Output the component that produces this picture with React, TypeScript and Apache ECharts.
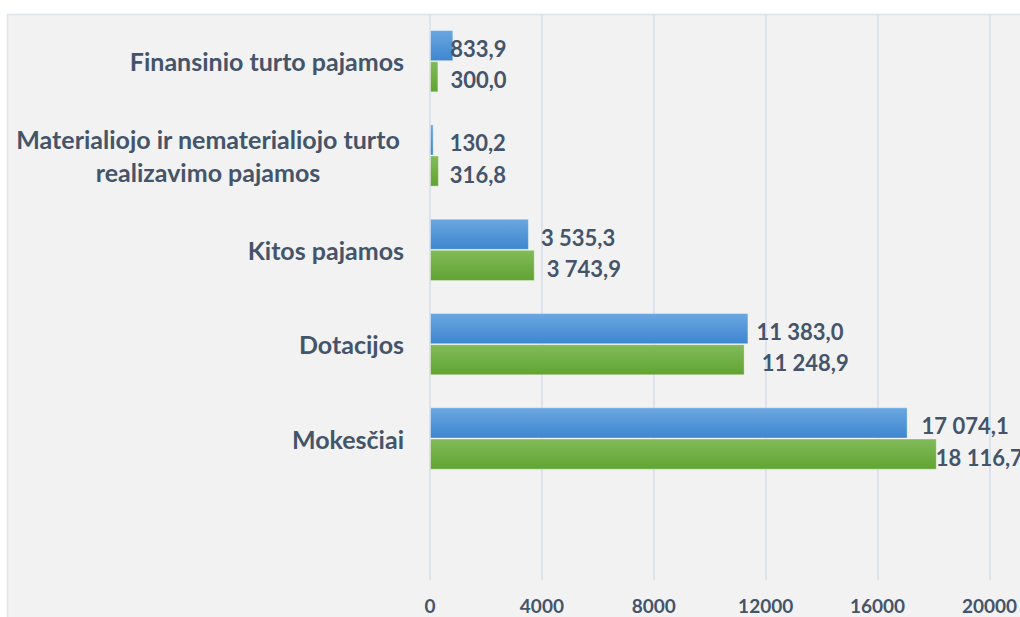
import React, { useEffect, useRef } from "react";
import * as echarts from "echarts";

const categories = [
  "Finansinio turto pajamos",
  "Materialiojo ir nematerialiojo turto\nrealizavimo pajamos",
  "Kitos pajamos",
  "Dotacijos",
  "Mokesčiai",
  "",
];
const seriesBlue = [833.9, 130.2, 3535.3, 11383.0, 17074.1, null];
const seriesGreen = [300.0, 316.8, 3743.9, 11248.9, 18116.7, null];
const xTicks = [0, 4000, 8000, 12000, 16000, 20000];

// label nudges (px) to mimic manually positioned labels
const blueLabelDx = [-3, 16, 12, 8, 14, 0];
const greenLabelDx = [12, 11, 12, 17, -1, 0];

const TEXT = "#44546a";
const FONT = "Lato, 'Open Sans', sans-serif";

const fmt = (v: number) => {
  const [i, d] = v.toFixed(1).split(".");
  const ip = i.replace(/\B(?=(\d{3})+(?!\d))/g, " ");
  return ip + "," + d;
};

const grad = (a: string, b: string) =>
  new echarts.graphic.LinearGradient(0, 0, 0, 1, [
    { offset: 0, color: a },
    { offset: 1, color: b },
  ]);

const mkData = (vals: (number | null)[], dx: number[]) =>
  vals.map((v, i) =>
    v == null
      ? null
      : { value: v, label: { offset: [dx[i], 3] } }
  );

export default function App() {
  const ref = useRef<HTMLDivElement>(null);
  useEffect(() => {
    if (!ref.current) return;
    const chart = echarts.init(ref.current, undefined, { renderer: "svg" });
    const labelCommon = {
      show: true,
      position: "right" as const,
      distance: 0,
      color: TEXT,
      fontFamily: FONT,
      fontWeight: "bold" as const,
      fontSize: 22,
      formatter: (p: any) => fmt(p.value),
    };
    chart.setOption({
      animation: false,
      backgroundColor: "#ffffff",
      graphic: [
        {
          type: "rect",
          z: -10,
          silent: true,
          shape: { x: 7.5, y: 14.5, width: 1100, height: 700 },
          style: { fill: "#f2f2f2", stroke: "#dde3eb", lineWidth: 1.5 },
        },
      ],
      grid: { left: 430, right: 30, top: 14, bottom: 37, containLabel: false },
      xAxis: {
        type: "value",
        min: xTicks[0],
        max: xTicks[xTicks.length - 1],
        interval: xTicks[1] - xTicks[0],
        axisLine: { show: false },
        axisTick: { show: false },
        splitLine: { show: true, lineStyle: { color: "#dce3ec", width: 2 } },
        axisLabel: {
          color: TEXT,
          fontFamily: FONT,
          fontWeight: "bold",
          fontSize: 19,
          margin: 16,
          formatter: (v: number) => String(v),
        },
      },
      yAxis: {
        type: "category",
        inverse: true,
        data: categories,
        axisLine: { show: false },
        axisTick: { show: false },
        splitLine: { show: false },
        axisLabel: {
          color: TEXT,
          fontFamily: FONT,
          fontWeight: "bold",
          fontSize: 25,
          margin: 26,
          lineHeight: 33,
          formatter: (v: string) =>
            v.includes("\n")
              ? v
                  .split("\n")
                  .map((s) => "{c|" + s + "}")
                  .join("\n")
              : v,
          rich: {
            c: {
              width: 392,
              align: "center",
              color: TEXT,
              fontFamily: FONT,
              fontWeight: "bold",
              fontSize: 25,
              lineHeight: 33,
            },
          },
        },
      },
      series: [
        {
          name: "Series 1",
          type: "bar",
          data: mkData(seriesBlue, blueLabelDx),
          barGap: "0%",
          barCategoryGap: "34%",
          itemStyle: {
            color: grad("#6ba7e1", "#3d86cf"),
            borderColor: "rgba(255,255,255,0.35)",
            borderWidth: 1,
          },
          label: labelCommon,
        },
        {
          name: "Series 2",
          type: "bar",
          data: mkData(seriesGreen, greenLabelDx),
          barGap: "0%",
          barCategoryGap: "34%",
          itemStyle: {
            color: grad("#82bb5a", "#61a432"),
            borderColor: "rgba(255,255,255,0.35)",
            borderWidth: 1,
          },
          label: labelCommon,
        },
      ],
    });
    return () => chart.dispose();
  }, []);
  return (
    <div
      ref={ref}
      style={{
        position: "fixed",
        left: 0,
        top: 0,
        width: 1020,
        height: 617,
        background: "#ffffff",
      }}
    />
  );
}
